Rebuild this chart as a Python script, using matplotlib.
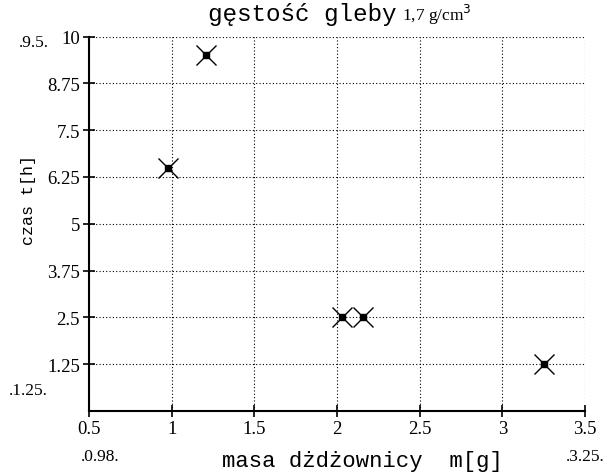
import matplotlib
matplotlib.use("Agg")
import matplotlib.pyplot as plt

# worm mass [g] vs time [h], soil density 1.7 g/cm3
masa = [1.21, 0.98, 2.03, 2.16, 3.25]
czas = [9.5, 6.5, 2.5, 2.5, 1.25]

x_ticks = [0.5, 1, 1.5, 2, 2.5, 3, 3.5]
x_tick_labels = ["0.5", "1", "1.5", "2", "2.5", "3", "3.5"]
y_ticks = [1.25, 2.5, 3.75, 5, 6.25, 7.5, 8.75, 10]
y_tick_labels = ["1.25", "2.5", "3.75", "5", "6.25", "7.5", "8.75", "10"]

# Mathcad-style range markers
x_min_label, x_max_label = ".0.98.", ".3.25."
y_min_label, y_max_label = ".1.25.", ".9.5."

MONO = "Liberation Mono"
SERIF = "Liberation Serif"

fig = plt.figure(figsize=(6.08, 4.77), dpi=100)
ax = fig.add_axes([89 / 608, 1 - 412 / 477, (585 - 89) / 608, (412 - 37.5) / 477])

ax.plot(masa, czas, linestyle="none", marker="x", markersize=15,
        markeredgewidth=1.0, color="black", zorder=5)
ax.plot(masa, czas, linestyle="none", marker="s", markersize=4.5,
        color="black", zorder=6)

ax.set_xlim(0.5, 3.5)
ax.set_ylim(0, 10)
ax.set_xticks(x_ticks)
ax.set_xticklabels(x_tick_labels, family=SERIF, fontsize=13.5)
ax.set_yticks(y_ticks)
ax.set_yticklabels(y_tick_labels, family=SERIF, fontsize=13.5)
ax.tick_params(direction="inout", length=9, width=1.2, colors="black", pad=2)

ax.grid(True, color="black", linestyle=(0, (1, 2)), linewidth=0.8)
for s in ["top", "right"]:
    ax.spines[s].set_visible(False)
for s in ["left", "bottom"]:
    ax.spines[s].set_linewidth(1.5)

# title: monospace part + serif density
fig.text(396 / 608, 1 - 15 / 477, "gęstość gleby", family=MONO, fontsize=17.5,
         ha="right", va="center")
fig.text(402 / 608, 1 - 15 / 477, "1,7 g/cm$^3$", family=SERIF, fontsize=12.5,
         ha="left", va="center")

fig.text(362 / 608, 1 - 462 / 477, "masa dżdżownicy  m[g]", family=MONO,
         fontsize=16, ha="center", va="center")
fig.text(28 / 608, 1 - 200 / 477, "czas t[h]", family=MONO, fontsize=12,
         ha="center", va="center", rotation=90)

fig.text(19 / 608, 1 - 43 / 477, y_max_label, family=SERIF, fontsize=12.5,
         ha="left", va="center")
fig.text(9 / 608, 1 - 391 / 477, y_min_label, family=SERIF, fontsize=12.5,
         ha="left", va="center")
fig.text(81 / 608, 1 - 457 / 477, x_min_label, family=SERIF, fontsize=12.5,
         ha="left", va="center")
fig.text(566 / 608, 1 - 457 / 477, x_max_label, family=SERIF, fontsize=12.5,
         ha="left", va="center")

fig.savefig("out.png", dpi=100, facecolor="white")
